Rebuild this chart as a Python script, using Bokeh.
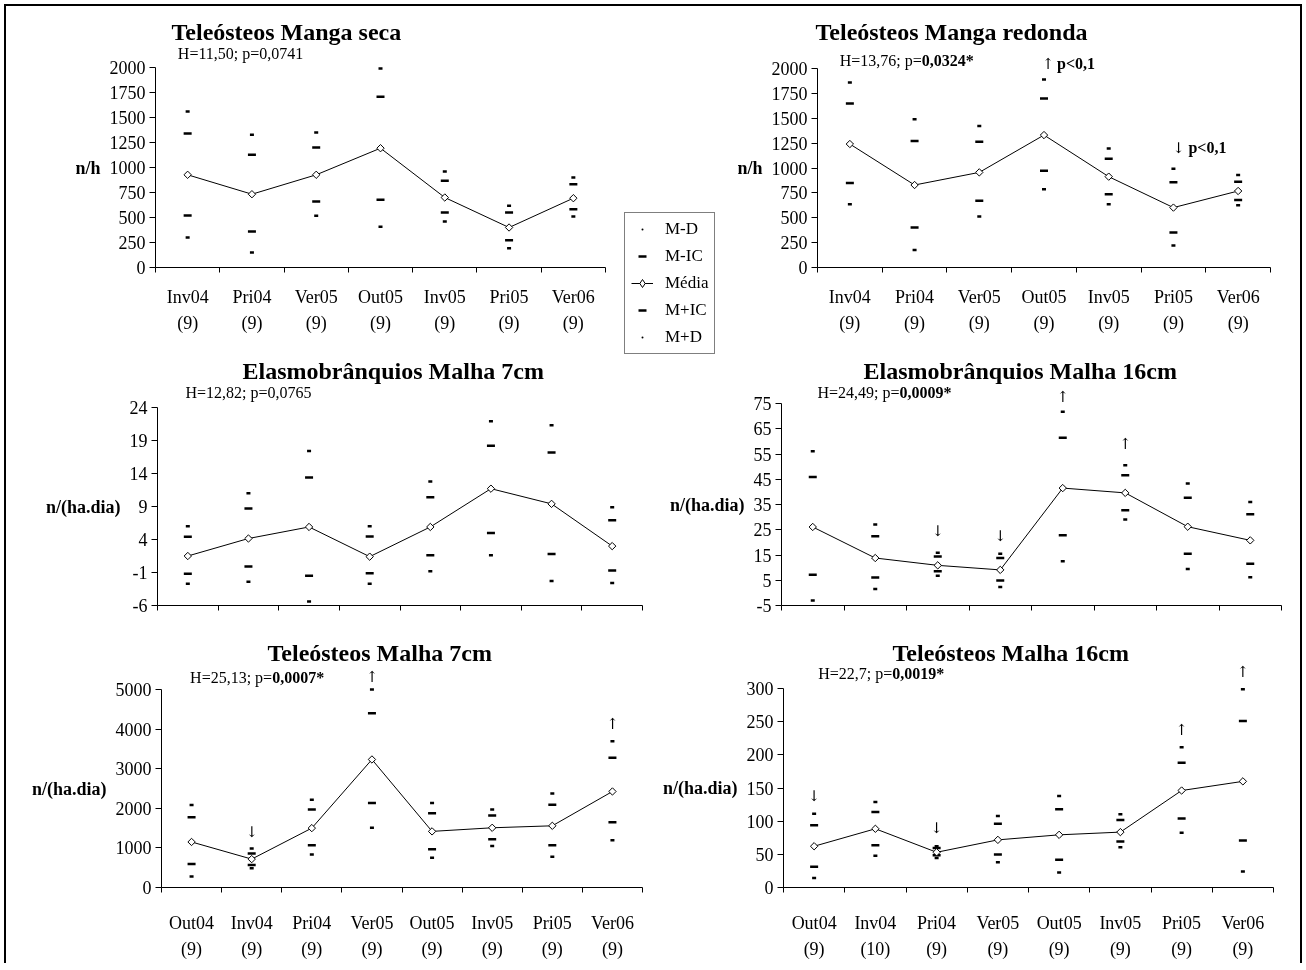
import numpy as np
from bokeh.plotting import figure
from bokeh.models import (Range1d, FixedTicker, LinearAxis, Label, Legend,
                          LegendItem, ColumnDataSource)
from bokeh.layouts import row, column
from bokeh.embed import file_html
from bokeh.resources import INLINE

FONT = "Liberation Serif"
ARROW_FONT = "DejaVu Serif"

# ---------------- data ----------------
seasons_manga = ["Inv04", "Pri04", "Ver05", "Out05", "Inv05", "Pri05", "Ver06"]
n_manga = ["(9)", "(9)", "(9)", "(9)", "(9)", "(9)", "(9)"]
seasons_malha = ["Out04", "Inv04", "Pri04", "Ver05", "Out05", "Inv05", "Pri05", "Ver06"]
n_tel7 = ["(9)", "(9)", "(9)", "(9)", "(9)", "(9)", "(9)", "(9)"]
n_tel16 = ["(9)", "(10)", "(9)", "(9)", "(9)", "(9)", "(9)", "(9)"]

# Teleósteos Manga seca (n/h)
seca_md = [300, 150, 517, 407, 460, 193, 510]
seca_mic = [520, 360, 660, 677, 550, 273, 583]
seca_mean = [927, 733, 927, 1193, 700, 400, 693]
seca_pic = [1340, 1127, 1200, 1707, 867, 550, 833]
seca_pd = [1560, 1327, 1350, 1990, 960, 617, 900]

# Teleósteos Manga redonda (n/h)
red_md = [635, 177, 512, 786, 635, 221, 625]
red_mic = [849, 401, 672, 973, 736, 351, 679]
red_mean = [1241, 829, 956, 1331, 913, 602, 769]
red_pic = [1649, 1271, 1264, 1699, 1093, 856, 863]
red_pd = [1859, 1491, 1421, 1889, 1197, 993, 930]

# Elasmobrânquios Malha 7cm
el7_md = [-2.7, -2.4, -5.4, -2.7, -0.8, 1.6, -2.3, -2.6]
el7_mic = [-1.2, -0.1, -1.5, -1.1, 1.6, 5.0, 1.8, -0.7]
el7_mean = [1.5, 4.15, 5.9, 1.4, 5.9, 11.7, 9.4, 3.0]
el7_pic = [4.4, 8.7, 13.4, 4.45, 10.4, 18.2, 17.2, 6.9]
el7_pd = [6.0, 11.0, 17.4, 6.0, 12.8, 21.9, 21.3, 8.9]

# Elasmobrânquios Malha 16cm
el16_md = [-3.0, 1.5, 6.8, 2.3, 12.5, 29.1, 9.5, 6.2]
el16_mic = [7.2, 6.1, 8.6, 4.9, 22.8, 32.7, 15.5, 11.5]
el16_mean = [26.1, 13.8, 10.9, 9.1, 41.5, 39.6, 26.2, 20.8]
el16_pic = [45.9, 22.4, 14.4, 13.8, 61.4, 46.6, 37.7, 31.1]
el16_pd = [56.1, 27.1, 15.9, 15.5, 71.7, 50.5, 43.3, 36.0]

# Teleósteos Malha 7cm
t7_md = [275, 483, 833, 1508, 750, 1050, 775, 1192]
t7_mic = [592, 567, 1067, 2133, 967, 1217, 1067, 1650]
t7_mean = [1150, 717, 1500, 3233, 1417, 1508, 1558, 2425]
t7_pic = [1775, 858, 1967, 4400, 1875, 1817, 2092, 3275]
t7_pd = [2083, 983, 2217, 5000, 2133, 1967, 2375, 3692]

# Teleósteos Malha 16cm
t16_md = [14.2, 48, 44.5, 37.9, 22.8, 60.7, 82.5, 24.3]
t16_mic = [31.4, 63.7, 48.6, 49.6, 42, 69.3, 104.2, 70.8]
t16_mean = [62.2, 88.5, 53.1, 71.8, 79.4, 83.5, 146.2, 160]
t16_pic = [94, 113.8, 59.7, 96.1, 117.9, 101.7, 188.2, 251]
t16_pd = [111, 129, 62.2, 107.8, 138, 110.3, 211.5, 299]

ticks_manga = [0, 250, 500, 750, 1000, 1250, 1500, 1750, 2000]
ticks_el7 = [-6, -1, 4, 9, 14, 19, 24]
ticks_el16 = [-5, 5, 15, 25, 35, 45, 55, 65, 75]
ticks_t7 = [0, 1000, 2000, 3000, 4000, 5000]
ticks_t16 = [0, 50, 100, 150, 200, 250, 300]


def make_panel(title, t_off, cats, counts, md, mic, mean, pic, pd,
               yticks, ylabel, stat_head, stat_val, stat_bold, stat_x, stat_dy,
               notes, width, height, left, right, top, bottom, ext,
               lab_standoff=14, lab_lh=1.3):
    n = len(cats)
    x = list(range(1, n + 1))
    bounds = [i + 0.5 for i in range(n + 1)]
    ybot, ytop = yticks[0], yticks[-1]
    frame_h = height - top - bottom
    yext = (ytop - ybot) * ext / (frame_h - ext)
    p = figure(width=width, height=height, output_backend="svg",
               toolbar_location=None, x_axis_location=None, y_axis_location=None,
               x_range=Range1d(0.5, n + 0.5), y_range=Range1d(ybot, ytop + yext),
               min_border_left=left, min_border_right=right,
               min_border_top=top, min_border_bottom=bottom)
    p.outline_line_color = None
    p.grid.visible = False
    p.background_fill_color = None
    p.border_fill_color = None

    p.title.text = title
    p.title.align = "left"
    p.title.offset = t_off
    p.title.standoff = -12
    p.title.text_font = FONT
    p.title.text_font_size = "24px"
    p.title.text_font_style = "bold"
    p.title.text_color = "black"

    # x axis: ticks between categories, labels at centres
    if counts is not None:
        xa = LinearAxis(ticker=FixedTicker(ticks=x, minor_ticks=bounds),
                        major_label_overrides={xi: f"{c}\n{k}" for xi, c, k in zip(x, cats, counts)})
        xa.major_label_standoff = lab_standoff
        xa.major_label_text_font_size = "18px"
        xa.major_label_text_line_height = lab_lh
    else:
        xa = LinearAxis(ticker=FixedTicker(ticks=[], minor_ticks=bounds))
        xa.major_label_standoff = 0
    xa.major_tick_line_color = None
    xa.major_tick_out = 0
    xa.major_tick_in = 0
    xa.minor_tick_line_color = "black"
    xa.minor_tick_out = 5
    xa.minor_tick_in = 0
    xa.axis_line_color = "black"
    xa.major_label_text_font = FONT
    xa.major_label_text_color = "black"
    p.add_layout(xa, "below")

    ya = LinearAxis(ticker=FixedTicker(ticks=yticks), bounds=(ybot, ytop),
                    major_label_overrides={t: str(t) for t in yticks})
    ya.axis_line_color = "black"
    ya.major_tick_out = 6
    ya.major_tick_in = 0
    ya.minor_tick_line_color = None
    ya.major_label_text_font = FONT
    ya.major_label_text_font_size = "18px"
    ya.major_label_text_color = "black"
    ya.major_label_standoff = 4
    p.add_layout(ya, "left")

    # axis title, centred on the value axis
    yc = (ybot + ytop) / 2
    yl = LinearAxis(ticker=FixedTicker(ticks=[yc]), major_label_overrides={yc: ylabel})
    yl.axis_line_color = None
    yl.major_tick_line_color = None
    yl.major_tick_out = 0
    yl.major_tick_in = 0
    yl.minor_tick_line_color = None
    yl.major_label_standoff = 6
    yl.major_label_text_font = FONT
    yl.major_label_text_font_size = "18px"
    yl.major_label_text_font_style = "bold"
    yl.major_label_text_color = "black"
    p.add_layout(yl, "left")

    p.scatter(x, md, marker="dash", size=4, line_width=2.5, line_color="black")
    p.scatter(x, mic, marker="dash", size=8, line_width=2.5, line_color="black")
    p.scatter(x, pic, marker="dash", size=8, line_width=2.5, line_color="black")
    p.scatter(x, pd, marker="dash", size=4, line_width=2.5, line_color="black")
    p.line(x, mean, line_color="black", line_width=1)
    p.scatter(x, mean, marker="square", angle=np.pi / 4, size=5.2,
              line_color="black", fill_color="white", line_width=1)

    p.add_layout(Label(x=stat_x, y=ytop, y_offset=stat_dy, text=stat_head,
                       text_align="right", text_baseline="alphabetic",
                       text_font=FONT, text_font_size="16px", text_color="black"))
    p.add_layout(Label(x=stat_x, y=ytop, y_offset=stat_dy, text=stat_val,
                       text_align="left", text_baseline="alphabetic",
                       text_font=FONT, text_font_size="16px", text_color="black",
                       text_font_style="bold" if stat_bold else "normal"))
    for nt in notes:
        is_arrow = nt["text"] in ("↑", "↓")
        p.add_layout(Label(x=x[nt["i"]], y=nt["y"], x_offset=nt.get("dx", 0),
                           y_offset=nt.get("dy", 0),
                           text=nt["text"], text_align=nt.get("align", "center"),
                           text_baseline=nt.get("baseline", "middle"),
                           text_font=ARROW_FONT if is_arrow else FONT,
                           text_font_size="15px" if is_arrow else "16px",
                           text_font_style="bold" if nt.get("bold") else "normal",
                           text_color="black"))
    return p


p1 = make_panel("Teleósteos Manga seca", 16, seasons_manga, n_manga,
                seca_md, seca_mic, seca_mean, seca_pic, seca_pd, ticks_manga, "n/h",
                "H=11,50; p=", "0,0741", False, 2.115, 14, [],
                615, 352, 155, 10, 38, 85, 29)

notes_red = [
    dict(i=3, y=2000, text="↑", dx=4, dy=5, baseline="alphabetic"),
    dict(i=3, y=2000, text="p<0,1", dx=13, dy=5, align="left", bold=True, baseline="alphabetic"),
    dict(i=5, y=1153, text="↓", dx=5, dy=5, baseline="alphabetic"),
    dict(i=5, y=1153, text="p<0,1", dx=15, dy=5, align="left", bold=True, baseline="alphabetic"),
]
p2 = make_panel("Teleósteos Manga redonda", -2, seasons_manga, n_manga,
                red_md, red_mic, red_mean, red_pic, red_pd, ticks_manga, "n/h",
                "H=13,76; p=", "0,0324*", True, 2.112, 8, notes_red,
                586, 352, 97, 36, 38, 85, 30)

p3 = make_panel("Elasmobrânquios Malha 7cm", 85, seasons_malha, None,
                el7_md, el7_mic, el7_mean, el7_pic, el7_pd, ticks_el7, "n/(ha.dia)",
                "H=12,82; p=", "0,0765", False, 2.315, 15, [],
                650, 278, 157, 8, 25, 25, 30)

notes_el16 = [
    dict(i=2, y=24.7, text="↓"),
    dict(i=3, y=22.6, text="↓"),
    dict(i=4, y=77.6, text="↑"),
    dict(i=5, y=59.1, text="↑"),
]
p4 = make_panel("Elasmobrânquios Malha 16cm", 82, seasons_malha, None,
                el16_md, el16_mic, el16_mean, el16_pic, el16_pd, ticks_el16, "n/(ha.dia)",
                "H=24,49; p=", "0,0009*", True, 2.388, 11, notes_el16,
                656, 278, 131, 25, 25, 25, 26)

notes_t7 = [
    dict(i=1, y=1400, text="↓"),
    dict(i=3, y=5315, text="↑"),
    dict(i=7, y=4132, text="↑"),
]
p5 = make_panel("Teleósteos Malha 7cm", 106, seasons_malha, n_tel7,
                t7_md, t7_mic, t7_mean, t7_pic, t7_pd, ticks_t7, "n/(ha.dia)",
                "H=25,13; p=", "0,0007*", True, 2.34, 12, notes_t7,
                650, 340, 161, 8, 29, 83, 30, lab_standoff=20, lab_lh=1.3)

notes_t16 = [
    dict(i=0, y=137.4, text="↓"),
    dict(i=2, y=89.4, text="↓"),
    dict(i=6, y=236.8, text="↑"),
    dict(i=7, y=324.7, text="↑"),
]
p6 = make_panel("Teleósteos Malha 16cm", 109, seasons_malha, n_tel16,
                t16_md, t16_mic, t16_mean, t16_pic, t16_pd, ticks_t16, "n/(ha.dia)",
                "H=22,7; p=", "0,0019*", True, 2.276, 15, notes_t16,
                656, 340, 133, 33, 29, 83, 29, lab_standoff=20, lab_lh=1.3)

# ---------------- legend figure ----------------
lg = figure(width=105, height=352, output_backend="svg", toolbar_location=None,
            x_axis_location=None, y_axis_location=None, min_border=0,
            x_range=Range1d(0, 1), y_range=Range1d(0, 1),
            styles={"transform": "translateY(87px)"})
lg.outline_line_color = None
lg.grid.visible = False
lg.background_fill_color = None
lg.border_fill_color = None
offscreen = ColumnDataSource(dict(x=[-10], y=[-10]))
r_md = lg.scatter("x", "y", source=offscreen, marker="dot", size=8, line_width=1.5,
                  line_color="black", fill_color="black")
r_ic = lg.scatter("x", "y", source=offscreen, marker="dash", size=8, line_width=2.5, line_color="black")
r_ln = lg.line("x", "y", source=offscreen, line_color="black", line_width=1)
r_mn = lg.scatter("x", "y", source=offscreen, marker="diamond", size=8, line_color="black",
                  fill_color="white", line_width=1)
legend = Legend(items=[
    LegendItem(label="M-D", renderers=[r_md]),
    LegendItem(label="M-IC", renderers=[r_ic]),
    LegendItem(label="Média", renderers=[r_ln, r_mn]),
    LegendItem(label="M+IC", renderers=[r_ic]),
    LegendItem(label="M+D", renderers=[r_md]),
], location=(9, 0))
legend.label_text_font = FONT
legend.label_text_font_size = "17px"
legend.label_text_color = "black"
legend.glyph_width = 22
legend.glyph_height = 20
legend.label_height = 20
legend.label_standoff = 12
legend.spacing = 7
legend.padding = 6
legend.margin = 0
legend.border_line_color = "black"
legend.border_line_width = 1
legend.background_fill_color = "white"
legend.background_fill_alpha = 1
lg.add_layout(legend, "center")

layout = column(
    row(p1, lg, p2),
    row(p3, p4),
    row(p5, p6),
    styles={"outline": "2px solid black", "outline-offset": "-6px",
            "clip-path": "inset(0px 0px 7px 0px)", "filter": "grayscale(100%)"},
)

open("out.html", "w").write(file_html(layout, INLINE))
